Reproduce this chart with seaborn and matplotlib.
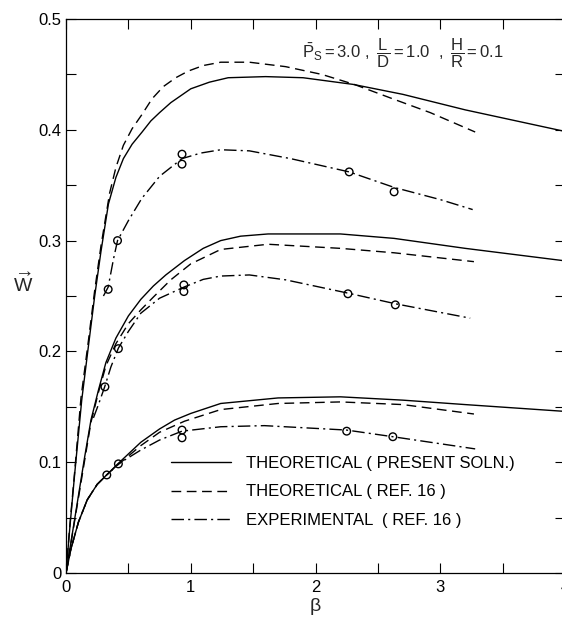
import numpy as np
import pandas as pd
import matplotlib
matplotlib.use("Agg")
import matplotlib.pyplot as plt
from matplotlib.ticker import MultipleLocator, FuncFormatter
import seaborn as sns

# top group (largest load)
top_solid_b = [0, 0.03, 0.07, 0.126, 0.18, 0.23, 0.28, 0.34, 0.4, 0.46, 0.53, 0.61, 0.68, 0.75, 0.84, 1.0, 1.15, 1.3, 1.6, 1.9, 2.3, 2.7, 3.2, 3.98]
top_solid_w = [0, 0.04, 0.09, 0.156, 0.205, 0.25, 0.29, 0.333, 0.357, 0.374, 0.387, 0.398, 0.408, 0.4155, 0.4245, 0.437, 0.443, 0.447, 0.448, 0.447, 0.441, 0.432, 0.418, 0.399]
top_dash_b = [0, 0.03, 0.07, 0.12, 0.18, 0.23, 0.28, 0.35, 0.4, 0.46, 0.53, 0.61, 0.69, 0.78, 0.88, 0.98, 1.1, 1.24, 1.47, 1.76, 2.05, 2.31, 2.63, 2.92, 3.28]
top_dash_w = [0, 0.042, 0.092, 0.158, 0.21, 0.255, 0.295, 0.343, 0.366, 0.386, 0.401, 0.414, 0.428, 0.439, 0.447, 0.453, 0.458, 0.461, 0.461, 0.457, 0.45, 0.441, 0.4275, 0.4155, 0.398]
top_exp_b = [0.30, 0.338, 0.38, 0.413, 0.5, 0.607, 0.75, 0.93, 1.08, 1.24, 1.47, 1.8, 2.27, 2.63, 3.0, 3.26]
top_exp_w = [0.25, 0.258, 0.283, 0.30, 0.318, 0.338, 0.358, 0.374, 0.379, 0.382, 0.381, 0.374, 0.362, 0.348, 0.337, 0.328]
top_pts_b = [0.338, 0.413, 0.93, 0.93, 2.27, 2.63]
top_pts_w = [0.256, 0.30, 0.378, 0.369, 0.362, 0.344]

# middle group
mid_solid_b = [0, 0.05, 0.1, 0.15, 0.2, 0.26, 0.32, 0.4, 0.5, 0.6, 0.7, 0.8, 0.95, 1.1, 1.24, 1.4, 1.62, 2.2, 2.63, 3.2, 3.98]
mid_solid_w = [0, 0.035, 0.07, 0.105, 0.138, 0.165, 0.19, 0.212, 0.232, 0.247, 0.259, 0.269, 0.282, 0.293, 0.300, 0.304, 0.306, 0.306, 0.302, 0.293, 0.282]
mid_dash_b = [0, 0.05, 0.1, 0.15, 0.2, 0.26, 0.32, 0.4, 0.5, 0.6, 0.7, 0.84, 1.0, 1.24, 1.62, 2.2, 2.63, 3.27]
mid_dash_w = [0, 0.034, 0.068, 0.102, 0.136, 0.163, 0.187, 0.207, 0.225, 0.2375, 0.249, 0.2646, 0.279, 0.292, 0.2967, 0.293, 0.289, 0.281]
mid_exp_b = [0.22, 0.26, 0.31, 0.36, 0.42, 0.5, 0.6, 0.75, 0.945, 1.1, 1.24, 1.47, 1.76, 2.26, 2.64, 3.24]
mid_exp_w = [0.14, 0.152, 0.168, 0.186, 0.203, 0.218, 0.2345, 0.248, 0.258, 0.265, 0.268, 0.269, 0.2646, 0.2526, 0.243, 0.230]
mid_pts_b = [0.312, 0.42, 0.945, 0.945, 2.26, 2.64]
mid_pts_w = [0.168, 0.2025, 0.26, 0.254, 0.252, 0.242]

# bottom group
bot_solid_b = [0, 0.04, 0.1, 0.17, 0.25, 0.33, 0.42, 0.6, 0.75, 0.87, 1.0, 1.24, 1.7, 2.2, 2.7, 3.2, 3.98]
bot_solid_w = [0, 0.022, 0.046, 0.066, 0.08, 0.089, 0.099, 0.118, 0.13, 0.138, 0.144, 0.153, 0.158, 0.159, 0.156, 0.152, 0.146]
bot_dash_b = [0, 0.04, 0.1, 0.17, 0.25, 0.33, 0.42, 0.6, 0.75, 0.95, 1.24, 1.7, 2.2, 2.7, 3.27]
bot_dash_w = [0, 0.022, 0.046, 0.066, 0.08, 0.089, 0.098, 0.115, 0.127, 0.137, 0.1475, 0.153, 0.1544, 0.152, 0.1435]
bot_exp_b = [0, 0.04, 0.1, 0.17, 0.25, 0.327, 0.42, 0.6, 0.75, 0.93, 1.24, 1.59, 2.25, 2.62, 3.28]
bot_exp_w = [0, 0.022, 0.046, 0.066, 0.08, 0.0885, 0.0985, 0.111, 0.12, 0.128, 0.132, 0.133, 0.129, 0.123, 0.112]
bot_pts_b = [0.327, 0.42, 0.93, 0.93, 2.25, 2.62]
bot_pts_w = [0.0885, 0.0985, 0.129, 0.122, 0.128, 0.123]

legend_labels = ["THEORETICAL ( PRESENT SOLN.)", "THEORETICAL ( REF. 16 )", "EXPERIMENTAL  ( REF. 16 )"]

sns.set_style("ticks")
plt.rcParams['font.family'] = ['Liberation Sans', 'DejaVu Sans']
plt.rcParams['mathtext.fontset'] = 'custom'
plt.rcParams['mathtext.rm'] = 'Liberation Sans'
plt.rcParams['mathtext.it'] = 'Liberation Sans'

fig = plt.figure(figsize=(5.62, 6.22), dpi=100)
ax = fig.add_axes([66 / 562, 49 / 622, 499 / 562, 554 / 622])

SOLID = '-'
DASH = (0, (7, 4))
DASHDOT = (0, (9, 3, 1.5, 3))

curves = [
    (top_solid_b, top_solid_w, SOLID, legend_labels[0]),
    (top_dash_b, top_dash_w, DASH, legend_labels[1]),
    (top_exp_b, top_exp_w, DASHDOT, legend_labels[2]),
    (mid_solid_b, mid_solid_w, SOLID, '_nolegend_'),
    (mid_dash_b, mid_dash_w, DASH, '_nolegend_'),
    (mid_exp_b, mid_exp_w, DASHDOT, '_nolegend_'),
    (bot_solid_b, bot_solid_w, SOLID, '_nolegend_'),
    (bot_dash_b, bot_dash_w, DASH, '_nolegend_'),
    (bot_exp_b, bot_exp_w, DASHDOT, '_nolegend_'),
]
for b, w, ls, lab in curves:
    sns.lineplot(x=b, y=w, ax=ax, color='k', lw=1.0, linestyle=ls,
                 estimator=None, sort=False, label=lab)

pts = pd.DataFrame({'b': top_pts_b + mid_pts_b + bot_pts_b,
                    'w': top_pts_w + mid_pts_w + bot_pts_w})
sns.scatterplot(data=pts, x='b', y='w', ax=ax, marker='o', s=30,
                facecolor='none', edgecolor='k', linewidth=1.0, zorder=5)

ax.set_xlim(0, 4)
ax.set_ylim(0, 0.5)
ax.xaxis.set_major_locator(MultipleLocator(1))
ax.xaxis.set_minor_locator(MultipleLocator(0.5))
ax.yaxis.set_major_locator(MultipleLocator(0.1))
ax.yaxis.set_minor_locator(MultipleLocator(0.05))
ax.yaxis.set_major_formatter(FuncFormatter(lambda v, p: '0' if abs(v) < 1e-9 else f'{v:.1f}'))
ax.tick_params(which='both', direction='in', length=7, width=0.8, color='k',
               top=True, right=True, labelsize=12, labelcolor='k')
ax.tick_params(axis='x', pad=5)
ax.tick_params(axis='y', pad=3)
for s in ['left', 'bottom', 'top']:
    ax.spines[s].set_color('k')
    ax.spines[s].set_linewidth(0.9)
ax.spines['right'].set_visible(False)

ax.set_xlabel('β', fontsize=14, labelpad=2)
ax.set_ylabel(r'$\overrightarrow{\mathrm{W}}$', fontsize=14, rotation=0, labelpad=12)
ax.yaxis.set_label_coords(-0.085, 0.50)

ax.text(1.89, 0.469,
        r'$\bar{\mathrm{P}}_{\mathrm{S}}=3.0\ ,\ \dfrac{\mathrm{L}}{\mathrm{D}}=1.0\ \ ,\ \dfrac{\mathrm{H}}{\mathrm{R}}=0.1$',
        fontsize=12, va='center', ha='left')

leg = ax.legend(loc='upper left', bbox_to_anchor=(0.84 / 4, 0.211), frameon=False,
                fontsize=12, handlelength=3.6, handletextpad=0.9, labelspacing=0.8,
                borderaxespad=0, borderpad=0)
for t in leg.get_texts():
    t.set_color('k')

fig.savefig('out.png', dpi=100)
